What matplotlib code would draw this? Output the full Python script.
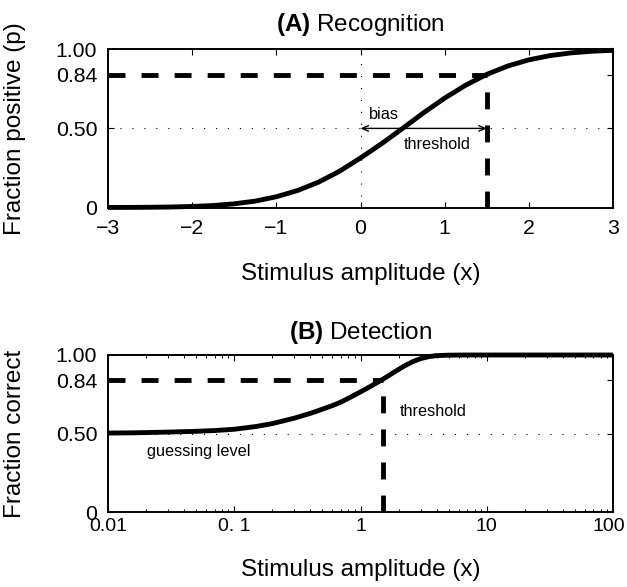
import numpy as np
import matplotlib
matplotlib.use("Agg")
import matplotlib.pyplot as plt
from matplotlib.ticker import FixedLocator, FixedFormatter, LogLocator, NullFormatter

plt.rcParams['font.family'] = ['Liberation Sans', 'DejaVu Sans']
plt.rcParams['mathtext.fontset'] = 'custom'
plt.rcParams['mathtext.rm'] = 'Liberation Sans'
plt.rcParams['mathtext.bf'] = 'Liberation Sans:bold'
plt.rcParams['lines.scale_dashes'] = False
plt.rcParams['axes.unicode_minus'] = True

# ---------------- data ----------------
# (A) Recognition: psychometric curve
rec_x = [-3.0, -2.75, -2.5, -2.25, -2.0, -1.75, -1.5, -1.25, -1.0, -0.75, -0.5, -0.25,
         0.0, 0.25, 0.5, 0.75, 1.0, 1.25, 1.5, 1.75, 2.0, 2.25, 2.5, 2.75, 3.0]
rec_p = [0.0003, 0.0007, 0.0015, 0.0032, 0.0065, 0.0125, 0.0232, 0.0405, 0.0680, 0.1070,
         0.1600, 0.2290, 0.3130, 0.4030, 0.5000, 0.5987, 0.6915, 0.7734, 0.8413, 0.8944,
         0.9332, 0.9599, 0.9773, 0.9878, 0.9938]
rec_threshold_x = 1.5
rec_threshold_p = 0.84
rec_bias_x = 0.5
rec_xticks = [-3, -2, -1, 0, 1, 2, 3]
rec_xticklabels = ['\u22123', '\u22122', '\u22121', '0', '1', '2', '3']

# (B) Detection: 2AFC psychometric curve on log axis
det_x = [0.01, 0.015, 0.02, 0.03, 0.05, 0.07, 0.1, 0.15, 0.2, 0.3, 0.4, 0.5, 0.6, 0.7,
         0.85, 1.0, 1.2, 1.5, 1.8, 2.2, 2.6, 3.0, 3.5, 4.0, 5.0, 7.0, 10.0, 30.0, 100.0]
det_p = [0.503, 0.504, 0.506, 0.509, 0.514, 0.519, 0.527, 0.545, 0.563, 0.598, 0.628,
         0.655, 0.678, 0.700, 0.735, 0.765, 0.800, 0.845, 0.885, 0.928, 0.958, 0.977,
         0.990, 0.996, 0.999, 1.0, 1.0, 1.0, 1.0]
det_threshold_x = 1.5
det_threshold_p = 0.84
det_xticks = [0.01, 0.1, 1, 10, 100]
det_xticklabels = ['0.01', '0. 1', '1', '10', '100']

yticks = [0, 0.5, 0.84, 1.0]
yticklabels = ['0', '0.50', '0.84', '1.00']

# ---------------- figure ----------------
W, H = 627, 587
fig = plt.figure(figsize=(W / 100, H / 100), dpi=100)

def fx(px):
    return px / W

def fy(py):
    return 1 - py / H

axA = fig.add_axes([fx(108), fy(207.5), fx(613) - fx(108), fy(49.3) - fy(207.5)])
axB = fig.add_axes([fx(108), fy(512), fx(613) - fx(108), fy(355) - fy(512)])

LW = 3.5
DASH = (0, (12.2, 11.6))
DOT = (0, (0.8, 7.8))
TICK_FS = 15.3
LABEL_FS = 17.5
NOTE_FS = 11.7
BX_FS = 14.0
BX_PAD = 4.2

for ax in (axA, axB):
    for s in ax.spines.values():
        s.set_linewidth(1.4)
    ax.set_ylim(0, 1)
    ax.set_yticks(yticks)
    ax.set_yticklabels(yticklabels)
    ax.tick_params(axis='both', which='both', direction='in', top=True, right=True,
                   labelsize=TICK_FS, width=0.8)
    ax.tick_params(axis='both', which='major', length=4)
    ax.tick_params(axis='y', pad=7.8)

# ---- (A) ----
axA.set_xlim(-3, 3)
axA.set_xticks(rec_xticks)
axA.set_xticklabels(rec_xticklabels)
axA.tick_params(axis='x', pad=8.0)
axA.axhline(0.5, color='black', lw=0.8, linestyle=DOT)
axA.axvline(0, color='black', lw=0.8, linestyle=DOT)
axA.plot([-3, rec_threshold_x], [rec_threshold_p, rec_threshold_p], color='black', lw=LW,
         linestyle=DASH, dash_capstyle='butt')
axA.plot([rec_threshold_x, rec_threshold_x], [0, rec_threshold_p], color='black', lw=LW,
         linestyle=DASH, dash_capstyle='butt')
axA.plot(rec_x, rec_p, color='black', lw=LW, clip_on=False, solid_capstyle='butt')
arrow = dict(arrowstyle='->,head_length=0.45,head_width=0.2', color='black', lw=1.0,
             shrinkA=0, shrinkB=0)
axA.annotate('', xy=(0, 0.5), xytext=(rec_bias_x, 0.5), arrowprops=arrow)
axA.annotate('', xy=(rec_threshold_x, 0.5), xytext=(rec_bias_x, 0.5), arrowprops=arrow)
axA.text(0.105, 0.585, 'bias', fontsize=NOTE_FS, ha='left', va='center')
axA.text(0.509, 0.40, 'threshold', fontsize=NOTE_FS, ha='left', va='center')
axA.set_ylabel('Fraction positive (p)', fontsize=LABEL_FS)

# ---- (B) ----
axB.set_xscale('log')
axB.set_xlim(0.01, 100)
axB.xaxis.set_major_locator(FixedLocator(det_xticks))
# last label is drawn separately so it stays inside the figure edge
axB.xaxis.set_major_formatter(FixedFormatter(det_xticklabels[:-1] + ['']))
axB.xaxis.set_minor_locator(LogLocator(base=10, subs=np.arange(2, 10)))
axB.xaxis.set_minor_formatter(NullFormatter())
axB.tick_params(axis='x', which='minor', length=2.5, width=0.7)
axB.tick_params(axis='x', which='both', pad=BX_PAD, labelsize=BX_FS)
axB.annotate(det_xticklabels[-1], xy=(det_xticks[-1], 0), xycoords=('data', 'axes fraction'),
             xytext=(8.6, -BX_PAD), textcoords='offset points', ha='right', va='top',
             fontsize=BX_FS, annotation_clip=False)
axB.axhline(0.5, color='black', lw=0.8, linestyle=DOT)
axB.plot([0.01, det_threshold_x], [det_threshold_p, det_threshold_p], color='black', lw=LW,
         linestyle=DASH, dash_capstyle='butt')
axB.plot([det_threshold_x, det_threshold_x], [0, det_threshold_p], color='black', lw=LW,
         linestyle=DASH, dash_capstyle='butt')
axB.plot(det_x, det_p, color='black', lw=LW, clip_on=False, solid_capstyle='butt')
axB.text(2.03, 0.64, 'threshold', fontsize=NOTE_FS, ha='left', va='center')
axB.text(0.0203, 0.384, 'guessing level', fontsize=NOTE_FS, ha='left', va='center')
axB.set_ylabel('Fraction correct', fontsize=LABEL_FS)

for ax in (axA, axB):
    ax.yaxis.set_label_coords(-0.163, 0.5)

# titles and x labels
fig.text(fx(360.5), fy(24), r'$\mathbf{(A)}$ Recognition', fontsize=LABEL_FS,
         ha='center', va='center')
fig.text(fx(360.5), fy(332), r'$\mathbf{(B)}$ Detection', fontsize=LABEL_FS,
         ha='center', va='center')
fig.text(fx(360.5), fy(274), 'Stimulus amplitude (x)', fontsize=LABEL_FS,
         ha='center', va='center')
fig.text(fx(360.5), fy(570), 'Stimulus amplitude (x)', fontsize=LABEL_FS,
         ha='center', va='center')

fig.savefig('out.png', dpi=100)
